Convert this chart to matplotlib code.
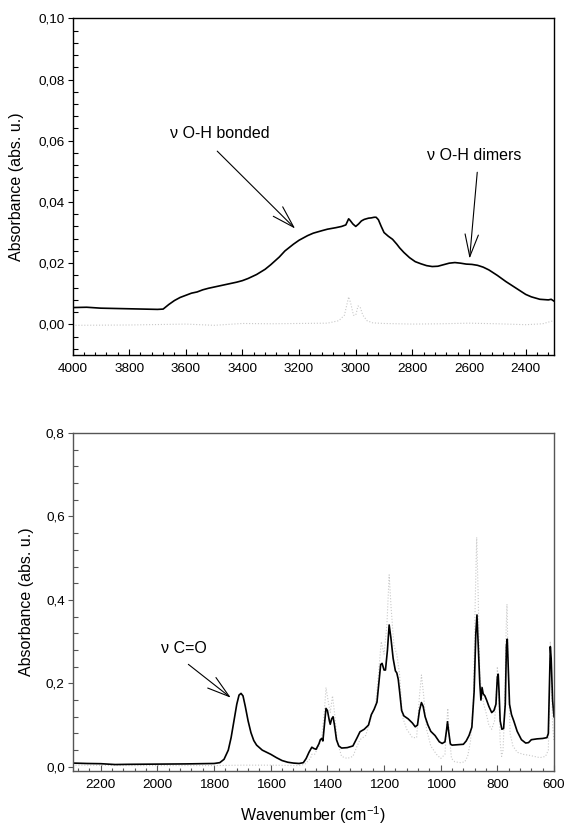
import matplotlib
matplotlib.use("Agg")
import matplotlib.pyplot as plt
from matplotlib.ticker import MultipleLocator, FuncFormatter

plt.rcParams['font.family'] = ['Liberation Sans', 'DejaVu Sans']

# ---------------- data: top panel (O-H region) ----------------
top_wn = [4000, 3950, 3900, 3850, 3800, 3750, 3700, 3680, 3660, 3640, 3620, 3600,
          3580, 3560, 3540, 3520, 3500, 3480, 3450, 3420, 3400, 3380, 3350, 3320,
          3300, 3270, 3250, 3220, 3200, 3170, 3150, 3120, 3100, 3070, 3050, 3035,
          3025, 3020, 3010, 3000, 2990, 2980, 2970, 2955, 2945, 2935, 2928, 2920,
          2910, 2900, 2885, 2870, 2855, 2845, 2830, 2810, 2790, 2770, 2750, 2730,
          2710, 2690, 2670, 2650, 2630, 2610, 2590, 2570, 2550, 2530, 2500, 2470,
          2450, 2420, 2400, 2380, 2350, 2320, 2310, 2300]
top_sample = [0.0055, 0.0056, 0.0053, 0.0052, 0.0051, 0.0050, 0.0049, 0.0050, 0.0065,
              0.0078, 0.0088, 0.0095, 0.0102, 0.0106, 0.0113, 0.0118, 0.0122, 0.0126,
              0.0132, 0.0138, 0.0143, 0.0150, 0.0163, 0.0180, 0.0195, 0.0220, 0.0240,
              0.0262, 0.0275, 0.0290, 0.0298, 0.0306, 0.0311, 0.0316, 0.0320, 0.0325,
              0.0345, 0.0340, 0.0328, 0.0320, 0.0328, 0.0338, 0.0343, 0.0347, 0.0348,
              0.0350, 0.0350, 0.0342, 0.0320, 0.0300, 0.0288, 0.0278, 0.0262, 0.0250,
              0.0235, 0.0218, 0.0205, 0.0198, 0.0192, 0.0189, 0.0190, 0.0195, 0.0200,
              0.0202, 0.0200, 0.0197, 0.0196, 0.0193, 0.0187, 0.0178, 0.0160, 0.0140,
              0.0128, 0.0110, 0.0098, 0.0090, 0.0082, 0.0080, 0.0082, 0.0076]

top_ref_wn = [4000, 3800, 3600, 3500, 3400, 3300, 3200, 3100, 3060, 3040, 3030, 3025,
              3018, 3008, 3000, 2992, 2985, 2975, 2960, 2940, 2900, 2800, 2700, 2600,
              2500, 2400, 2340, 2310, 2300]
top_ref = [-0.0003, -0.0002, 0.0001, -0.0003, 0.0003, 0.0002, 0.0003, 0.0004, 0.0012,
           0.0030, 0.0070, 0.0090, 0.0070, 0.0030, 0.0030, 0.0060, 0.0058, 0.0030,
           0.0012, 0.0005, 0.0003, 0.0001, 0.0002, 0.0004, 0.0002, -0.0001, 0.0002,
           0.0010, 0.0012]

# ---------------- data: bottom panel (fingerprint region) ----------------
bot_wn = [2300, 2250, 2200, 2150, 2100, 2000, 1900, 1800, 1780, 1765, 1750, 1740, 1730,
          1720, 1712, 1705, 1698, 1690, 1680, 1670, 1660, 1650, 1630, 1600, 1580, 1560,
          1540, 1520, 1500, 1485, 1475, 1465, 1455, 1448, 1440, 1430, 1425, 1420, 1416,
          1412, 1405, 1400, 1393, 1390, 1385, 1380, 1375, 1368, 1360, 1350, 1330, 1310,
          1295, 1285, 1270, 1255, 1245, 1235, 1225, 1220, 1212, 1207, 1200, 1195, 1188,
          1182, 1176, 1168, 1160, 1155, 1150, 1145, 1138, 1130, 1115, 1100, 1090, 1082,
          1075, 1068, 1062, 1055, 1045, 1035, 1020, 1005, 995, 985, 979, 976, 972, 966,
          960, 940, 920, 910, 900, 890, 882, 876, 872, 868, 862, 858, 854, 850, 844, 838,
          830, 820, 812, 805, 800, 797, 794, 790, 784, 778, 772, 768, 765, 762, 757, 750,
          742, 730, 715, 700, 690, 680, 660, 640, 625, 620, 616, 613, 610, 605, 600]
bot_sample = [0.009, 0.008, 0.0075, 0.0055, 0.006, 0.0065, 0.007, 0.008, 0.010, 0.018,
              0.040, 0.070, 0.110, 0.150, 0.172, 0.176, 0.170, 0.145, 0.110, 0.082, 0.063,
              0.052, 0.040, 0.030, 0.022, 0.015, 0.011, 0.009, 0.008, 0.010, 0.020, 0.035,
              0.047, 0.044, 0.042, 0.055, 0.065, 0.068, 0.062, 0.090, 0.140, 0.135, 0.110,
              0.102, 0.115, 0.120, 0.100, 0.065, 0.050, 0.045, 0.046, 0.050, 0.070, 0.084,
              0.090, 0.100, 0.125, 0.138, 0.155, 0.190, 0.245, 0.248, 0.232, 0.232, 0.280,
              0.340, 0.310, 0.260, 0.230, 0.225, 0.210, 0.180, 0.135, 0.122, 0.115, 0.105,
              0.096, 0.100, 0.135, 0.154, 0.145, 0.120, 0.100, 0.085, 0.075, 0.060, 0.056,
              0.060, 0.090, 0.108, 0.085, 0.055, 0.052, 0.053, 0.054, 0.062, 0.075, 0.095,
              0.180, 0.320, 0.364, 0.300, 0.200, 0.160, 0.190, 0.175, 0.170, 0.160, 0.145,
              0.130, 0.135, 0.150, 0.215, 0.222, 0.180, 0.110, 0.090, 0.092, 0.150, 0.290,
              0.306, 0.250, 0.150, 0.125, 0.110, 0.085, 0.065, 0.057, 0.058, 0.065, 0.067,
              0.068, 0.070, 0.080, 0.200, 0.288, 0.260, 0.160, 0.120]

bot_ref_wn = [2300, 2100, 1800, 1700, 1600, 1500, 1480, 1460, 1455, 1445, 1430, 1420, 1410,
              1405, 1398, 1390, 1382, 1375, 1365, 1350, 1330, 1310, 1295, 1285, 1265, 1245,
              1230, 1220, 1210, 1200, 1190, 1182, 1175, 1165, 1155, 1145, 1135, 1120, 1100,
              1085, 1075, 1068, 1060, 1050, 1035, 1015, 1000, 985, 978, 975, 970, 962, 950,
              930, 915, 905, 895, 885, 878, 873, 868, 862, 855, 848, 840, 830, 820, 810, 805,
              800, 795, 790, 785, 780, 775, 769, 766, 762, 755, 745, 730, 710, 690, 670, 650,
              630, 620, 616, 613, 610, 605, 600]
bot_ref = [0.004, 0.003, 0.003, 0.004, 0.004, 0.003, 0.006, 0.020, 0.030, 0.030, 0.050,
           0.070, 0.140, 0.190, 0.160, 0.130, 0.170, 0.130, 0.060, 0.025, 0.020, 0.025,
           0.050, 0.065, 0.075, 0.120, 0.150, 0.220, 0.300, 0.270, 0.340, 0.460, 0.380,
           0.290, 0.270, 0.220, 0.120, 0.090, 0.070, 0.070, 0.170, 0.220, 0.170, 0.090,
           0.050, 0.030, 0.020, 0.030, 0.110, 0.140, 0.080, 0.020, 0.012, 0.010, 0.012,
           0.025, 0.060, 0.150, 0.400, 0.550, 0.420, 0.220, 0.180, 0.150, 0.130, 0.100,
           0.090, 0.110, 0.150, 0.240, 0.180, 0.060, 0.025, 0.040, 0.120, 0.330, 0.390,
           0.250, 0.080, 0.050, 0.035, 0.030, 0.028, 0.025, 0.022, 0.025, 0.040, 0.180,
           0.300, 0.240, 0.100, 0.060]

top_xticks = [4000, 3800, 3600, 3400, 3200, 3000, 2800, 2600, 2400]
bot_xticks = [2200, 2000, 1800, 1600, 1400, 1200, 1000, 800, 600]

# ---------------- figure ----------------
W, H = 569, 827
fig = plt.figure(figsize=(W / 100, H / 100), dpi=100)

ax1 = fig.add_axes([72.5 / W, 1 - 355 / H, 481.5 / W, (355 - 18.3) / H])
ax2 = fig.add_axes([72.5 / W, 1 - 771 / H, 481.5 / W, (771 - 433) / H])

FS_TICK = 9.7
FS_LAB = 11.5

def style(ax, spine_color, yfmt):
    for s in ax.spines.values():
        s.set_color(spine_color)
        s.set_linewidth(1.0)
    ax.tick_params(axis='x', which='major', direction='in', length=4.5, width=0.8,
                   pad=6, labelsize=FS_TICK, top=False, color=spine_color)
    ax.tick_params(axis='x', which='minor', direction='in', length=2.5, width=0.8,
                   top=False, color=spine_color)
    ax.tick_params(axis='y', which='major', direction='out', length=3.5, width=0.8,
                   pad=2, labelsize=FS_TICK, right=False, color=spine_color)
    ax.tick_params(axis='y', which='minor', direction='in', length=3.5, width=0.8,
                   right=False, color=spine_color)
    ax.yaxis.set_major_formatter(FuncFormatter(lambda v, p: yfmt.format(v).replace('.', ',')))

# top panel
ax1.plot(top_ref_wn, top_ref, color='#c8c8c8', lw=0.8, ls=':')
ax1.plot(top_wn, top_sample, color='black', lw=1.2)
ax1.set_xlim(4000, 2300)
ax1.set_ylim(-0.01, 0.10)
ax1.set_xticks(top_xticks)
ax1.xaxis.set_minor_locator(MultipleLocator(40))
ax1.yaxis.set_major_locator(MultipleLocator(0.02))
ax1.yaxis.set_minor_locator(MultipleLocator(0.004))
style(ax1, 'black', '{:.2f}')
ax1.set_ylabel('Absorbance (abs. u.)', fontsize=FS_LAB)
ax1.yaxis.set_label_coords(-0.10, 0.5)

arrow_style = dict(arrowstyle='->,head_length=1.6,head_width=0.48', lw=0.8,
                   color='black', shrinkA=0, shrinkB=0, mutation_scale=10)
ax1.text(3655, 0.0625, 'ν O-H bonded', fontsize=FS_LAB, ha='left', va='center')
ax1.annotate('', xy=(3214, 0.0313), xytext=(3489, 0.0566), arrowprops=arrow_style)
ax1.text(2747, 0.0552, 'ν O-H dimers', fontsize=FS_LAB, ha='left', va='center')
ax1.annotate('', xy=(2598, 0.0215), xytext=(2571, 0.0497), arrowprops=arrow_style)

# bottom panel
ax2.plot(bot_ref_wn, bot_ref, color='#c8c8c8', lw=0.8, ls=':')
ax2.plot(bot_wn, bot_sample, color='black', lw=1.2)
ax2.set_xlim(2300, 600)
ax2.set_ylim(-0.01, 0.8)
ax2.set_xticks(bot_xticks)
ax2.xaxis.set_minor_locator(MultipleLocator(40))
ax2.yaxis.set_major_locator(MultipleLocator(0.2))
ax2.yaxis.set_minor_locator(MultipleLocator(0.04))
style(ax2, '#555555', '{:.1f}')
ax2.set_ylabel('Absorbance (abs. u.)', fontsize=FS_LAB)
ax2.yaxis.set_label_coords(-0.08, 0.5)
ax2.set_xlabel('Wavenumber (cm$^{\\mathregular{-1}}$)', fontsize=FS_LAB)
ax2.xaxis.set_label_coords(0.5, -0.10)

ax2.text(1987, 0.284, 'ν C=O', fontsize=FS_LAB, ha='left', va='center')
ax2.annotate('', xy=(1741, 0.1656), xytext=(1891, 0.2456), arrowprops=arrow_style)

fig.savefig('out.png', dpi=100)
